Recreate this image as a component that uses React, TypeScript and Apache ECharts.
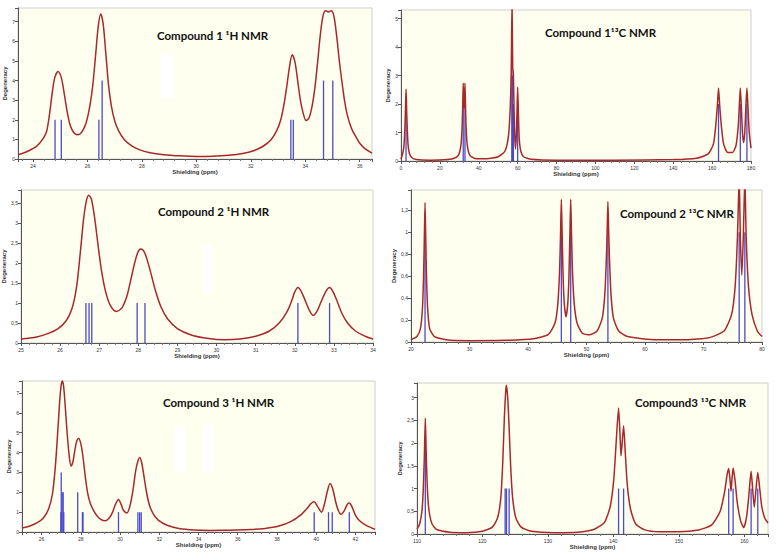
import React, { useEffect, useRef } from "react";
import * as echarts from "echarts";

// ---------- Panel titles ----------
const titles = [
  "Compound 1 ¹H NMR",
  "Compound 1¹³C NMR",
  "Compound 2 ¹H NMR",
  "Compound 2 ¹³C NMR",
  "Compound 3 ¹H NMR",
  "Compound3 ¹³C NMR",
];

// ---------- Compound 1 1H ----------
const c1hCurve: number[][] = [
  [23.45, 0.22], [23.7, 0.33], [23.9, 0.46], [24.1, 0.62], [24.25, 0.82], [24.4, 1.1],
  [24.5, 1.4], [24.6, 2.2], [24.7, 3.3], [24.8, 4.15], [24.92, 4.46], [25.04, 4.15],
  [25.14, 3.4], [25.25, 2.45], [25.35, 1.8], [25.45, 1.45], [25.55, 1.28], [25.66, 1.24],
  [25.78, 1.35], [25.9, 1.65], [26.0, 2.1], [26.1, 2.8], [26.2, 3.8], [26.3, 5.3],
  [26.4, 6.8], [26.49, 7.39], [26.58, 6.85], [26.68, 5.3], [26.78, 3.7], [26.88, 2.7],
  [27.0, 1.95], [27.15, 1.42], [27.35, 1.0], [27.6, 0.7], [27.9, 0.48], [28.3, 0.32],
  [28.8, 0.22], [29.4, 0.16], [30.0, 0.13], [30.6, 0.14], [31.2, 0.19], [31.7, 0.28],
  [32.1, 0.42], [32.45, 0.65], [32.75, 1.0], [32.95, 1.45], [33.1, 2.0], [33.22, 2.8],
  [33.32, 3.7], [33.42, 4.7], [33.52, 5.31], [33.62, 4.95], [33.72, 4.0], [33.82, 3.0],
  [33.92, 2.35], [34.03, 1.96], [34.14, 2.1], [34.25, 2.7], [34.35, 3.6], [34.45, 4.9],
  [34.55, 6.3], [34.65, 7.3], [34.75, 7.56], [34.85, 7.5], [34.95, 7.56], [35.05, 7.3],
  [35.15, 6.3], [35.25, 5.0], [35.35, 3.9], [35.45, 2.9], [35.55, 2.2], [35.7, 1.55],
  [35.85, 1.15], [36.0, 0.8], [36.2, 0.52], [36.45, 0.3],
];
const c1hSticks: number[][] = [
  [24.81, 2], [25.04, 2], [26.42, 2], [26.54, 4], [33.47, 2], [33.56, 2],
  [34.67, 4], [35.01, 4],
];

// ---------- Compound 1 13C ----------
const c1cCurve: number[][] = [
  [0, 0.06], [1.0, 0.3], [1.6, 0.6], [2.1, 1.35], [2.35, 1.95], [2.6, 2.52], [2.85, 1.95],
  [3.1, 1.35], [3.6, 0.6], [4.2, 0.3], [5.5, 0.12], [8, 0.05], [15, 0.03], [22, 0.04],
  [27, 0.09], [29.5, 0.2], [30.8, 0.55], [31.4, 1.15], [31.75, 2.0], [32.0, 2.73],
  [32.25, 2.1], [32.45, 1.85], [32.65, 2.1], [32.9, 2.73], [33.15, 2.0], [33.5, 1.15],
  [34.1, 0.55], [35.4, 0.2], [38, 0.09], [44, 0.08], [50, 0.15], [53.5, 0.35],
  [55.3, 0.9], [56.2, 1.9], [56.7, 3.2], [57.1, 5.6], [57.45, 3.3], [57.8, 3.05],
  [58.2, 1.6], [58.5, 0.85], [58.9, 0.42], [59.3, 0.9], [59.65, 1.7], [60.0, 2.59],
  [60.35, 1.7], [60.8, 0.8], [61.6, 0.35], [63, 0.15], [67, 0.06], [80, 0.03],
  [110, 0.03], [140, 0.05], [152, 0.1], [158, 0.25], [160.7, 0.6], [161.8, 1.2],
  [162.7, 1.95], [163.3, 2.56], [163.9, 1.95], [164.8, 1.2], [165.9, 0.6], [168, 0.3],
  [170.5, 0.3], [172.3, 0.55], [173.4, 1.2], [174.0, 1.95], [174.5, 2.56], [175.0, 1.95],
  [175.6, 1.0], [176.2, 0.65], [176.8, 1.0], [177.4, 1.95], [177.9, 2.56], [178.4, 1.95],
  [179.1, 1.0], [180, 0.45],
];
const c1cSticks: number[][] = [
  [2.6, 2], [32.0, 2], [32.9, 2], [57.0, 4], [57.3, 3], [57.8, 2], [60.0, 2],
  [163.3, 2], [174.5, 2], [177.9, 2],
];

// ---------- Compound 2 1H ----------
const c2hCurve: number[][] = [
  [25, 0.1], [25.4, 0.15], [25.7, 0.24], [25.95, 0.36], [26.15, 0.55], [26.3, 0.85],
  [26.42, 1.4], [26.52, 2.3], [26.6, 3.1], [26.67, 3.55], [26.73, 3.7], [26.8, 3.6],
  [26.88, 3.15], [26.97, 2.45], [27.06, 1.8], [27.16, 1.3], [27.28, 0.95], [27.44, 0.79],
  [27.58, 0.88], [27.7, 1.15], [27.8, 1.55], [27.9, 1.98], [27.98, 2.25], [28.06, 2.35],
  [28.14, 2.3], [28.22, 2.1], [28.32, 1.75], [28.44, 1.3], [28.58, 0.9], [28.75, 0.6],
  [29.0, 0.36], [29.35, 0.2], [29.8, 0.11], [30.2, 0.08], [30.6, 0.1], [31.0, 0.17],
  [31.35, 0.3], [31.6, 0.5], [31.8, 0.78], [31.93, 1.08], [32.0, 1.28], [32.08, 1.39],
  [32.16, 1.3], [32.26, 1.08], [32.37, 0.82], [32.47, 0.69], [32.57, 0.8], [32.68, 1.05],
  [32.8, 1.3], [32.89, 1.39], [32.97, 1.3], [33.08, 1.05], [33.2, 0.75], [33.35, 0.5],
  [33.55, 0.3], [33.8, 0.17], [34, 0.1],
];
const c2hSticks: number[][] = [
  [26.66, 1], [26.74, 1], [26.81, 1], [27.97, 1], [28.17, 1], [32.08, 1], [32.89, 1],
];

// ---------- Compound 2 13C ----------
const c2cCurve: number[][] = [
  [20, 0.02], [21, 0.05], [21.6, 0.12], [21.95, 0.3], [22.15, 0.6], [22.28, 0.95],
  [22.4, 1.27], [22.52, 0.95], [22.65, 0.6], [22.85, 0.3], [23.2, 0.12], [24, 0.05],
  [26, 0.02], [30, 0.012], [36, 0.015], [41, 0.03], [43.5, 0.07], [44.6, 0.17],
  [45.1, 0.35], [45.4, 0.65], [45.57, 1.0], [45.7, 1.3], [45.83, 1.0], [46.0, 0.6],
  [46.2, 0.35], [46.5, 0.23], [46.8, 0.35], [47.0, 0.6], [47.17, 1.0], [47.3, 1.3],
  [47.43, 1.0], [47.6, 0.65], [47.9, 0.35], [48.4, 0.17], [49.3, 0.08], [50.5, 0.065],
  [51.8, 0.1], [52.7, 0.22], [53.15, 0.45], [53.42, 0.8], [53.55, 1.05], [53.66, 1.28],
  [53.77, 1.05], [53.9, 0.8], [54.17, 0.45], [54.6, 0.22], [55.5, 0.1], [57, 0.05],
  [62, 0.02], [67, 0.02], [71, 0.04], [73.5, 0.1], [74.8, 0.25], [75.4, 0.5],
  [75.8, 0.95], [76.1, 1.5], [76.3, 0.95], [76.55, 0.61], [76.8, 0.95], [77.07, 1.5],
  [77.3, 0.95], [77.7, 0.5], [78.3, 0.25], [79.2, 0.1], [80, 0.05],
];
const c2cSticks: number[][] = [
  [22.4, 1], [45.7, 1], [47.3, 1], [53.66, 1], [76.1, 1], [77.07, 1],
];

// ---------- Compound 3 1H ----------
const c3hCurve: number[][] = [
  [25, 0.2], [25.4, 0.3], [25.8, 0.48], [26.1, 0.72], [26.35, 1.15], [26.55, 1.9],
  [26.7, 3.3], [26.82, 5.0], [26.93, 6.7], [27.0, 7.4], [27.06, 7.6], [27.12, 7.35],
  [27.2, 6.4], [27.3, 5.0], [27.4, 3.9], [27.5, 3.32], [27.6, 3.55], [27.7, 4.15],
  [27.8, 4.6], [27.89, 4.71], [28.0, 4.45], [28.1, 3.85], [28.22, 2.85], [28.34, 2.0],
  [28.48, 1.45], [28.64, 1.1], [28.82, 0.82], [29.0, 0.65], [29.24, 0.56], [29.45, 0.7],
  [29.62, 1.0], [29.77, 1.4], [29.92, 1.63], [30.05, 1.4], [30.18, 1.08], [30.35, 0.96],
  [30.5, 1.3], [30.65, 2.05], [30.8, 3.1], [30.92, 3.6], [31.0, 3.75], [31.1, 3.5],
  [31.22, 2.8], [31.35, 2.0], [31.5, 1.35], [31.7, 0.9], [31.95, 0.6], [32.4, 0.34],
  [33.0, 0.18], [33.8, 0.1], [34.6, 0.08], [35.6, 0.09], [36.6, 0.12], [37.4, 0.18],
  [38.1, 0.3], [38.7, 0.52], [39.2, 0.85], [39.55, 1.2], [39.75, 1.45], [39.9, 1.52],
  [40.06, 1.3], [40.27, 1.0], [40.42, 1.4], [40.57, 2.05], [40.71, 2.44], [40.85, 2.15],
  [41.0, 1.5], [41.13, 1.08], [41.26, 0.89], [41.42, 1.05], [41.58, 1.38], [41.69, 1.46],
  [41.82, 1.28], [42.0, 0.85], [42.2, 0.58], [42.5, 0.36], [42.8, 0.22], [43.0, 0.14],
];
const c3hSticks: number[][] = [
  [26.98, 1], [27.0, 3], [27.05, 2], [27.1, 2], [27.13, 1], [27.84, 2], [28.08, 1],
  [28.11, 1], [29.92, 1], [30.91, 1], [31.0, 1], [31.08, 1], [39.9, 1], [40.63, 1],
  [40.82, 1], [41.69, 1],
];

// ---------- Compound 3 13C ----------
const c3cCurve: number[][] = [
  [110, 0.11], [110.4, 0.22], [110.75, 0.5], [110.95, 0.95], [111.12, 1.7], [111.27, 2.55],
  [111.42, 1.7], [111.6, 0.95], [111.85, 0.5], [112.3, 0.22], [113, 0.1], [115, 0.04],
  [117.5, 0.03], [120, 0.06], [121.5, 0.15], [122.3, 0.35], [122.8, 0.8], [123.1, 1.6],
  [123.35, 2.6], [123.55, 3.15], [123.66, 3.27], [123.85, 3.0], [124.05, 2.4], [124.3, 1.5],
  [124.6, 0.8], [125.1, 0.35], [125.9, 0.15], [127.5, 0.06], [131, 0.03], [134.5, 0.04],
  [137, 0.1], [138.6, 0.25], [139.5, 0.6], [140.05, 1.2], [140.45, 2.1], [140.78, 2.77],
  [141.0, 2.2], [141.15, 1.72], [141.3, 1.95], [141.55, 2.38], [141.8, 1.8], [142.1, 1.1],
  [142.6, 0.55], [143.4, 0.22], [144.8, 0.09], [147, 0.05], [150, 0.05], [153, 0.09],
  [155, 0.2], [156.3, 0.5], [157.0, 0.95], [157.35, 1.3], [157.6, 1.44], [157.8, 1.2],
  [157.95, 0.94], [158.1, 1.2], [158.27, 1.45], [158.55, 1.2], [158.9, 0.7], [159.4, 0.3],
  [159.87, 0.14], [160.3, 0.35], [160.65, 0.8], [160.85, 1.15], [161.02, 1.38], [161.25, 1.0],
  [161.5, 0.59], [161.75, 0.95], [162.04, 1.36], [162.3, 1.05], [162.65, 0.6], [163.1, 0.35],
  [163.6, 0.24],
];
const c3cSticks: number[][] = [
  [111.27, 2], [123.46, 1], [123.66, 1], [124.07, 1], [140.78, 1], [141.55, 1],
  [157.6, 1], [158.27, 1], [161.02, 1], [162.04, 1],
];

const curves = [c1hCurve, c1cCurve, c2hCurve, c2cCurve, c3hCurve, c3cCurve];
const sticks = [c1hSticks, c1cSticks, c2hSticks, c2cSticks, c3hSticks, c3cSticks];
const smoothness = [0.3, 0.2, 0.3, 0.2, 0.3, 0.2];

// axis ranges and label steps
const xRanges = [[23.45, 36.45], [0, 180], [25, 34], [20, 80], [25, 43], [110, 163.6]];
const xSteps = [2, 20, 1, 10, 2, 10];
const yRanges = [[0, 7.7], [0, 5.3], [0, 3.83], [0, 1.385], [0, 7.6], [0, 3.32]];
const ySteps = [1, 1, 0.5, 0.2, 1, 0.5];
const yComma = [false, false, true, true, false, true];

// layout (pixels)
const grids = [
  { left: 18, top: 8, width: 354, height: 151 },
  { left: 401, top: 10, width: 350, height: 151 },
  { left: 21, top: 190, width: 352, height: 153 },
  { left: 411, top: 190, width: 351, height: 152 },
  { left: 22, top: 381, width: 353, height: 151 },
  { left: 417, top: 383, width: 351, height: 151 },
];
const titlePos = [
  { x: 157, y: 29 }, { x: 545, y: 26 }, { x: 158, y: 205 },
  { x: 620, y: 207 }, { x: 163, y: 396 }, { x: 635, y: 396 },
];

function isMultiple(v: number, step: number) {
  const r = v / step;
  return Math.abs(r - Math.round(r)) < 1e-6;
}

export default function App() {
  const ref = useRef<HTMLDivElement>(null);
  useEffect(() => {
    if (!ref.current) return;
    const chart = echarts.init(ref.current, undefined, { renderer: "svg" });
    const axisCommon = {
      axisLine: { show: true, onZero: false, lineStyle: { color: "#555", width: 1 } },
      axisTick: { show: true, length: 3, lineStyle: { color: "#555" } },
      splitLine: { show: false },
    };
    const xAxis = xRanges.map((r, i) => ({
      type: "value",
      gridIndex: i,
      min: r[0],
      max: r[1],
      minInterval: xSteps[i],
      maxInterval: xSteps[i],
      splitNumber: 8,
      name: "Shielding (ppm)",
      nameLocation: "middle",
      nameGap: 10,
      nameTextStyle: { fontSize: 6, fontWeight: "bold", color: "#333", fontFamily: "Liberation Sans" },
      ...axisCommon,
      minorTick: { show: true, splitNumber: 5, length: 2, lineStyle: { color: "#777" } },
      axisLabel: {
        fontSize: 5,
        color: "#333",
        margin: 4,
        fontFamily: "Liberation Sans",
        formatter: (v: number) => (isMultiple(v, xSteps[i]) ? String(Math.round(v * 100) / 100) : ""),
      },
    }));
    const yAxis = yRanges.map((r, i) => ({
      type: "value",
      gridIndex: i,
      min: r[0],
      max: r[1],
      minInterval: ySteps[i],
      maxInterval: ySteps[i],
      splitNumber: 8,
      name: "Degeneracy",
      nameLocation: "middle",
      nameGap: 10,
      nameTextStyle: { fontSize: 6, fontWeight: "bold", color: "#333", fontFamily: "Liberation Sans" },
      ...axisCommon,
      axisLabel: {
        fontSize: 5,
        color: "#333",
        margin: 3,
        fontFamily: "Liberation Sans",
        formatter: (v: number) => {
          if (!isMultiple(v, ySteps[i])) return "";
          const s = String(Math.round(v * 100) / 100);
          return yComma[i] ? s.replace(".", ",") : s;
        },
      },
    }));
    const series: any[] = [];
    curves.forEach((c, i) => {
      series.push({
        type: "bar",
        xAxisIndex: i,
        yAxisIndex: i,
        data: sticks[i],
        barWidth: 1.3,
        itemStyle: { color: "#4a4ad0" },
        z: 2,
        silent: true,
      });
      series.push({
        type: "line",
        xAxisIndex: i,
        yAxisIndex: i,
        data: c,
        smooth: smoothness[i],
        showSymbol: false,
        symbol: "none",
        clip: true,
        lineStyle: { color: "#a8282c", width: 1.5 },
        z: 3,
        silent: true,
      });
    });
    const graphic: any[] = [
      { type: "rect", shape: { x: 160, y: 55, width: 15, height: 43 }, style: { fill: "#ffffff" }, z: 10 },
      { type: "rect", shape: { x: 202, y: 245, width: 10, height: 48 }, style: { fill: "#ffffff" }, z: 10 },
      { type: "rect", shape: { x: 175, y: 425, width: 10, height: 47 }, style: { fill: "#ffffff" }, z: 10 },
      { type: "rect", shape: { x: 203, y: 425, width: 10, height: 47 }, style: { fill: "#ffffff" }, z: 10 },
    ];
    titles.forEach((t, i) => {
      graphic.push({
        type: "text",
        x: titlePos[i].x,
        y: titlePos[i].y,
        z: 20,
        style: {
          text: t,
          fill: "#111",
          font: "bold 11.5px Lato, 'Open Sans', sans-serif",
        },
      });
    });
    chart.setOption({
      animation: false,
      backgroundColor: "#ffffff",
      grid: grids.map((g) => ({
        ...g,
        show: true,
        backgroundColor: "#fffff0",
        borderColor: "#cfcfcf",
        borderWidth: 1,
        containLabel: false,
      })),
      xAxis,
      yAxis,
      series,
      graphic,
    } as any);
    return () => chart.dispose();
  }, []);
  return (
    <div
      ref={ref}
      style={{ position: "absolute", left: 0, top: 0, width: 776, height: 552 }}
    />
  );
}
